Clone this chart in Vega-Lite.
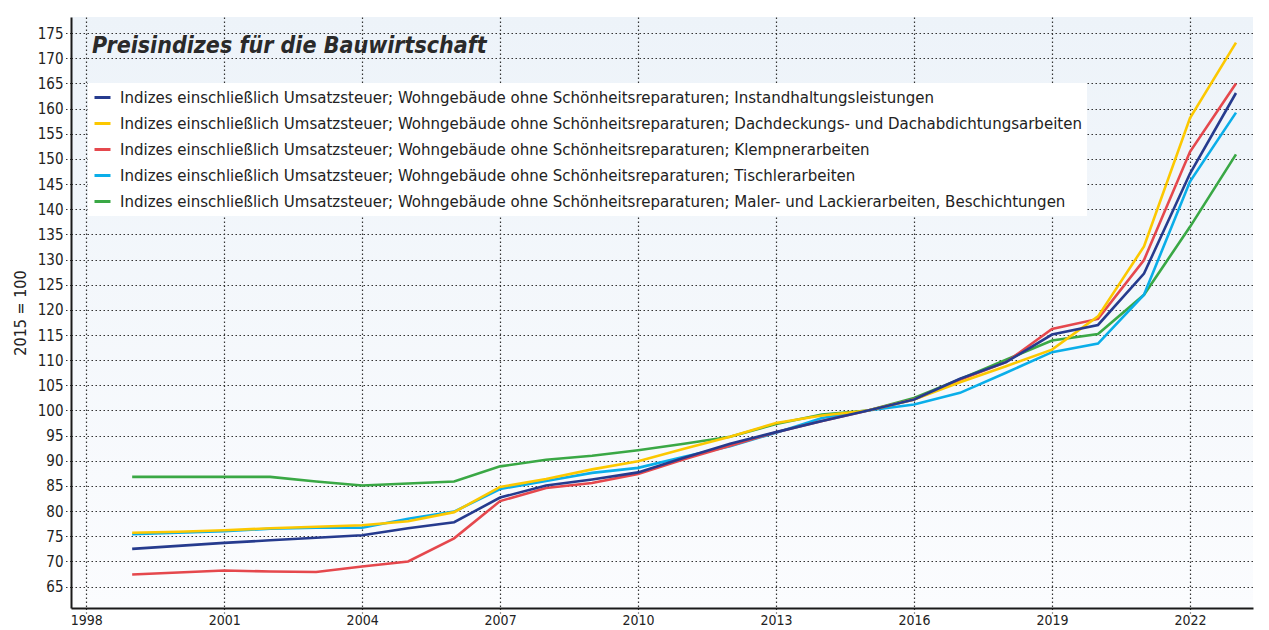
{
  "$schema": "https://vega.github.io/schema/vega-lite/v6.json",
  "autosize": {"type": "none"},
  "width": 1182,
  "height": 591,
  "padding": {"left": 71, "top": 17, "right": 16, "bottom": 22},
  "background": "#ffffff",
  "title": {
    "text": "Preisindizes für die Bauwirtschaft",
    "anchor": "start",
    "frame": "group",
    "orient": "top",
    "offset": -41,
    "dx": 21,
    "font": "DejaVu Sans Condensed, sans-serif",
    "fontSize": 23,
    "fontWeight": "bold",
    "fontStyle": "italic",
    "color": "#2a2a2a"
  },
  "config": {
    "font": "DejaVu Sans Condensed, sans-serif",
    "view": {
      "stroke": null,
      "fill": {"gradient": "linear", "x1": 0, "y1": 0, "x2": 0, "y2": 1, "stops": [{"offset": 0, "color": "#edf3f9"}, {"offset": 1, "color": "#fbfcfe"}]}
    },
    "axis": {
      "labelFont": "DejaVu Sans Condensed, sans-serif",
      "titleFont": "DejaVu Sans Condensed, sans-serif",
      "labelFontSize": 15,
      "labelColor": "#222222",
      "titleColor": "#222222",
      "titleFontSize": 16,
      "titleFontWeight": "normal",
      "domainColor": "#1a1a1a",
      "domainWidth": 2,
      "gridColor": "#333333",
      "gridDash": [1.5, 2.5],
      "gridWidth": 1.2,
      "gridOpacity": 1,
      "tickColor": "#333333",
      "tickDash": [1.5, 2.5],
      "tickWidth": 1.2
    }
  },
  "data": {
    "values": [
      {"Jahr": 1999, "Instandhaltungsleistungen": 72.5, "Dachdeckungs- und Dachabdichtungsarbeiten": 75.7, "Klempnerarbeiten": 67.4, "Tischlerarbeiten": 75.4, "Maler- und Lackierarbeiten, Beschichtungen": 86.8},
      {"Jahr": 2000, "Instandhaltungsleistungen": 73.1, "Dachdeckungs- und Dachabdichtungsarbeiten": 75.9, "Klempnerarbeiten": 67.8, "Tischlerarbeiten": 75.7, "Maler- und Lackierarbeiten, Beschichtungen": 86.8},
      {"Jahr": 2001, "Instandhaltungsleistungen": 73.7, "Dachdeckungs- und Dachabdichtungsarbeiten": 76.2, "Klempnerarbeiten": 68.2, "Tischlerarbeiten": 76.0, "Maler- und Lackierarbeiten, Beschichtungen": 86.8},
      {"Jahr": 2002, "Instandhaltungsleistungen": 74.2, "Dachdeckungs- und Dachabdichtungsarbeiten": 76.6, "Klempnerarbeiten": 68.0, "Tischlerarbeiten": 76.5, "Maler- und Lackierarbeiten, Beschichtungen": 86.8},
      {"Jahr": 2003, "Instandhaltungsleistungen": 74.7, "Dachdeckungs- und Dachabdichtungsarbeiten": 76.9, "Klempnerarbeiten": 67.9, "Tischlerarbeiten": 76.7, "Maler- und Lackierarbeiten, Beschichtungen": 85.9},
      {"Jahr": 2004, "Instandhaltungsleistungen": 75.2, "Dachdeckungs- und Dachabdichtungsarbeiten": 77.2, "Klempnerarbeiten": 69.0, "Tischlerarbeiten": 76.7, "Maler- und Lackierarbeiten, Beschichtungen": 85.1},
      {"Jahr": 2005, "Instandhaltungsleistungen": 76.6, "Dachdeckungs- und Dachabdichtungsarbeiten": 78.0, "Klempnerarbeiten": 70.0, "Tischlerarbeiten": 78.5, "Maler- und Lackierarbeiten, Beschichtungen": 85.5},
      {"Jahr": 2006, "Instandhaltungsleistungen": 77.8, "Dachdeckungs- und Dachabdichtungsarbeiten": 79.8, "Klempnerarbeiten": 74.6, "Tischlerarbeiten": 79.9, "Maler- und Lackierarbeiten, Beschichtungen": 85.9},
      {"Jahr": 2007, "Instandhaltungsleistungen": 82.7, "Dachdeckungs- und Dachabdichtungsarbeiten": 84.8, "Klempnerarbeiten": 82.0, "Tischlerarbeiten": 84.4, "Maler- und Lackierarbeiten, Beschichtungen": 88.9},
      {"Jahr": 2008, "Instandhaltungsleistungen": 85.1, "Dachdeckungs- und Dachabdichtungsarbeiten": 86.4, "Klempnerarbeiten": 84.6, "Tischlerarbeiten": 86.0, "Maler- und Lackierarbeiten, Beschichtungen": 90.2},
      {"Jahr": 2009, "Instandhaltungsleistungen": 86.3, "Dachdeckungs- und Dachabdichtungsarbeiten": 88.3, "Klempnerarbeiten": 85.6, "Tischlerarbeiten": 87.6, "Maler- und Lackierarbeiten, Beschichtungen": 91.0},
      {"Jahr": 2010, "Instandhaltungsleistungen": 87.7, "Dachdeckungs- und Dachabdichtungsarbeiten": 89.9, "Klempnerarbeiten": 87.4, "Tischlerarbeiten": 88.6, "Maler- und Lackierarbeiten, Beschichtungen": 92.1},
      {"Jahr": 2011, "Instandhaltungsleistungen": 90.6, "Dachdeckungs- und Dachabdichtungsarbeiten": 92.4, "Klempnerarbeiten": 90.3, "Tischlerarbeiten": 90.8, "Maler- und Lackierarbeiten, Beschichtungen": 93.4},
      {"Jahr": 2012, "Instandhaltungsleistungen": 93.4, "Dachdeckungs- und Dachabdichtungsarbeiten": 94.8, "Klempnerarbeiten": 93.0, "Tischlerarbeiten": 92.9, "Maler- und Lackierarbeiten, Beschichtungen": 94.8},
      {"Jahr": 2013, "Instandhaltungsleistungen": 95.7, "Dachdeckungs- und Dachabdichtungsarbeiten": 97.5, "Klempnerarbeiten": 95.7, "Tischlerarbeiten": 95.6, "Maler- und Lackierarbeiten, Beschichtungen": 97.3},
      {"Jahr": 2014, "Instandhaltungsleistungen": 97.9, "Dachdeckungs- und Dachabdichtungsarbeiten": 99.0, "Klempnerarbeiten": 97.9, "Tischlerarbeiten": 98.5, "Maler- und Lackierarbeiten, Beschichtungen": 99.2},
      {"Jahr": 2015, "Instandhaltungsleistungen": 100.0, "Dachdeckungs- und Dachabdichtungsarbeiten": 100.0, "Klempnerarbeiten": 100.0, "Tischlerarbeiten": 100.0, "Maler- und Lackierarbeiten, Beschichtungen": 100.0},
      {"Jahr": 2016, "Instandhaltungsleistungen": 102.2, "Dachdeckungs- und Dachabdichtungsarbeiten": 102.2, "Klempnerarbeiten": 102.2, "Tischlerarbeiten": 101.2, "Maler- und Lackierarbeiten, Beschichtungen": 102.5},
      {"Jahr": 2017, "Instandhaltungsleistungen": 106.3, "Dachdeckungs- und Dachabdichtungsarbeiten": 105.6, "Klempnerarbeiten": 106.1, "Tischlerarbeiten": 103.5, "Maler- und Lackierarbeiten, Beschichtungen": 106.2},
      {"Jahr": 2018, "Instandhaltungsleistungen": 109.6, "Dachdeckungs- und Dachabdichtungsarbeiten": 108.8, "Klempnerarbeiten": 109.6, "Tischlerarbeiten": 107.5, "Maler- und Lackierarbeiten, Beschichtungen": 110.1},
      {"Jahr": 2019, "Instandhaltungsleistungen": 115.1, "Dachdeckungs- und Dachabdichtungsarbeiten": 112.1, "Klempnerarbeiten": 116.2, "Tischlerarbeiten": 111.6, "Maler- und Lackierarbeiten, Beschichtungen": 113.9},
      {"Jahr": 2020, "Instandhaltungsleistungen": 117.0, "Dachdeckungs- und Dachabdichtungsarbeiten": 118.7, "Klempnerarbeiten": 118.2, "Tischlerarbeiten": 113.3, "Maler- und Lackierarbeiten, Beschichtungen": 115.2},
      {"Jahr": 2021, "Instandhaltungsleistungen": 127.2, "Dachdeckungs- und Dachabdichtungsarbeiten": 132.6, "Klempnerarbeiten": 129.9, "Tischlerarbeiten": 123.0, "Maler- und Lackierarbeiten, Beschichtungen": 123.0},
      {"Jahr": 2022, "Instandhaltungsleistungen": 147.1, "Dachdeckungs- und Dachabdichtungsarbeiten": 158.1, "Klempnerarbeiten": 151.4, "Tischlerarbeiten": 145.5, "Maler- und Lackierarbeiten, Beschichtungen": 136.5},
      {"Jahr": 2023, "Instandhaltungsleistungen": 163.1, "Dachdeckungs- und Dachabdichtungsarbeiten": 173.1, "Klempnerarbeiten": 165.0, "Tischlerarbeiten": 159.2, "Maler- und Lackierarbeiten, Beschichtungen": 150.9}
    ]
  },
  "transform": [
    {"fold": ["Maler- und Lackierarbeiten, Beschichtungen", "Tischlerarbeiten", "Klempnerarbeiten", "Dachdeckungs- und Dachabdichtungsarbeiten", "Instandhaltungsleistungen"], "as": ["Art", "Index"]}
  ],
  "mark": {"type": "line", "strokeWidth": 2.6, "clip": true},
  "encoding": {
    "x": {
      "field": "Jahr",
      "type": "quantitative",
      "scale": {"domain": [1997.67, 2023.37], "nice": false, "zero": false},
      "axis": {"title": null, "values": [1998, 2001, 2004, 2007, 2010, 2013, 2016, 2019, 2022], "format": "d", "tickSize": 5, "labelPadding": 0, "labelFontSize": 14, "grid": true}
    },
    "y": {
      "field": "Index",
      "type": "quantitative",
      "scale": {"domain": [60.75, 178.2], "nice": false, "zero": false},
      "axis": {"title": "2015 = 100", "values": [65, 70, 75, 80, 85, 90, 95, 100, 105, 110, 115, 120, 125, 130, 135, 140, 145, 150, 155, 160, 165, 170, 175], "tickSize": 7, "labelPadding": 1, "titlePadding": 9, "grid": true}
    },
    "color": {
      "field": "Art",
      "type": "nominal",
      "scale": {
        "domain": ["Instandhaltungsleistungen", "Dachdeckungs- und Dachabdichtungsarbeiten", "Klempnerarbeiten", "Tischlerarbeiten", "Maler- und Lackierarbeiten, Beschichtungen"],
        "range": ["#263b8e", "#fcc800", "#e5484d", "#0aaee9", "#3aa845"]
      },
      "legend": {
        "title": null,
        "orient": "none",
        "legendX": 17,
        "legendY": 66,
        "fillColor": "#ffffff",
        "padding": 5,
        "symbolType": "stroke",
        "symbolSize": 256,
        "symbolStrokeWidth": 3,
        "labelFontSize": 16.7,
        "labelColor": "#222222",
        "labelFont": "DejaVu Sans Condensed, sans-serif",
        "labelLimit": 1200,
        "labelOffset": 8,
        "rowPadding": 7,
        "labelExpr": "'Indizes einschließlich Umsatzsteuer; Wohngebäude ohne Schönheitsreparaturen; ' + datum.label"
      }
    }
  }
}
